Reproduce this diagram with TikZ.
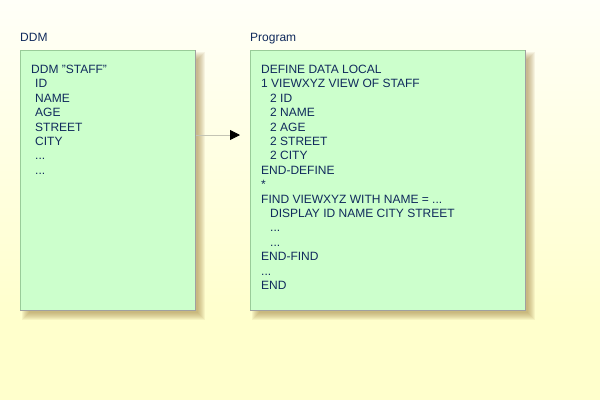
\documentclass[tikz,border=0pt]{standalone}
\usepackage{fontspec}
\setmainfont{Liberation Sans}
\usepackage{xcolor}
\usetikzlibrary{positioning, calc, arrows.meta}

\definecolor{pagetop}{HTML}{FFFFF8}
\definecolor{pagebottom}{HTML}{FFFFCC}
\definecolor{boxfill}{HTML}{CCFFCC}
\definecolor{boxedge}{HTML}{99CC99}
\definecolor{boxrim}{HTML}{A0A0A0}
\definecolor{shadowc}{HTML}{A08040}
\definecolor{codetext}{HTML}{102A5C}
\definecolor{linkgray}{HTML}{C4C4B4}

\begin{document}
\begin{tikzpicture}[
    x=1pt, y=-1pt,
    panel/.style={rectangle, draw=boxedge, fill=boxfill, anchor=north west, inner sep=0pt, line width=0.8pt},
    code/.style={anchor=north west, inner sep=0pt, align=left, text=codetext, font=\fontsize{12}{14.4}\selectfont},
    title/.style={anchor=base west, inner sep=0pt, text=codetext, font=\fontsize{12}{14.4}\selectfont},
    link/.style={draw=linkgray, line width=0.8pt, -{Triangle[length=10pt, width=10pt, color=black]}}
    ]

    % Background
    \useasboundingbox (0,0) rectangle (600,400);
    \shade[top color=pagetop, bottom color=pagebottom] (0,0) rectangle (600,320);
    \fill[pagebottom] (0,320) rectangle (600,400);

    % Shadows
    \foreach \r in {-3,...,4} {
        \fill[shadowc, opacity=0.09] (26-\r,56-\r) rectangle (201+\r,316+\r);
        \fill[shadowc, opacity=0.09] (256-\r,56-\r) rectangle (531+\r,316+\r);
    }

    % Boxes
    \node (ddm) [panel, minimum width=175pt, minimum height=260pt] at (20,50) {};
    \node (prog) [panel, minimum width=275pt, minimum height=260pt] at (250,50) {};
    \draw[boxrim, line width=0.8pt] (ddm.north east) -- (ddm.south east) -- (ddm.south west);
    \draw[boxrim, line width=0.8pt] (prog.north east) -- (prog.south east) -- (prog.south west);

    % Titles
    \node (ddmtitle) [title] at ($(ddm.north west)+(0,-9)$) {DDM};
    \node (progtitle) [title] at ($(prog.north west)+(0,-9)$) {Program};

    % Texts
    \node (ddmcode) [code] at ($(ddm.north west)+(11,15)$) {%
        DDM "STAFF"\\
        \hspace{4pt}ID\\
        \hspace{4pt}NAME\\
        \hspace{4pt}AGE\\
        \hspace{4pt}STREET\\
        \hspace{4pt}CITY\\
        \hspace{4pt}...\\
        \hspace{4pt}...};
    \node (progcode) [code] at ($(prog.north west)+(11,15)$) {%
        DEFINE DATA LOCAL\\
        1 VIEWXYZ VIEW OF STAFF\\
        \hspace{9pt}2 ID\\
        \hspace{9pt}2 NAME\\
        \hspace{9pt}2 AGE\\
        \hspace{9pt}2 STREET\\
        \hspace{9pt}2 CITY\\
        END-DEFINE\\
        *\\
        FIND VIEWXYZ WITH NAME = ...\\
        \hspace{9pt}DISPLAY ID NAME CITY STREET\\
        \hspace{9pt}...\\
        \hspace{9pt}...\\
        END-FIND\\
        ...\\
        END};

    % Arrow
    \coordinate (linkend) at (240,135);
    \draw [link] (ddm.east |- linkend) -- (linkend);
\end{tikzpicture}
\end{document}
